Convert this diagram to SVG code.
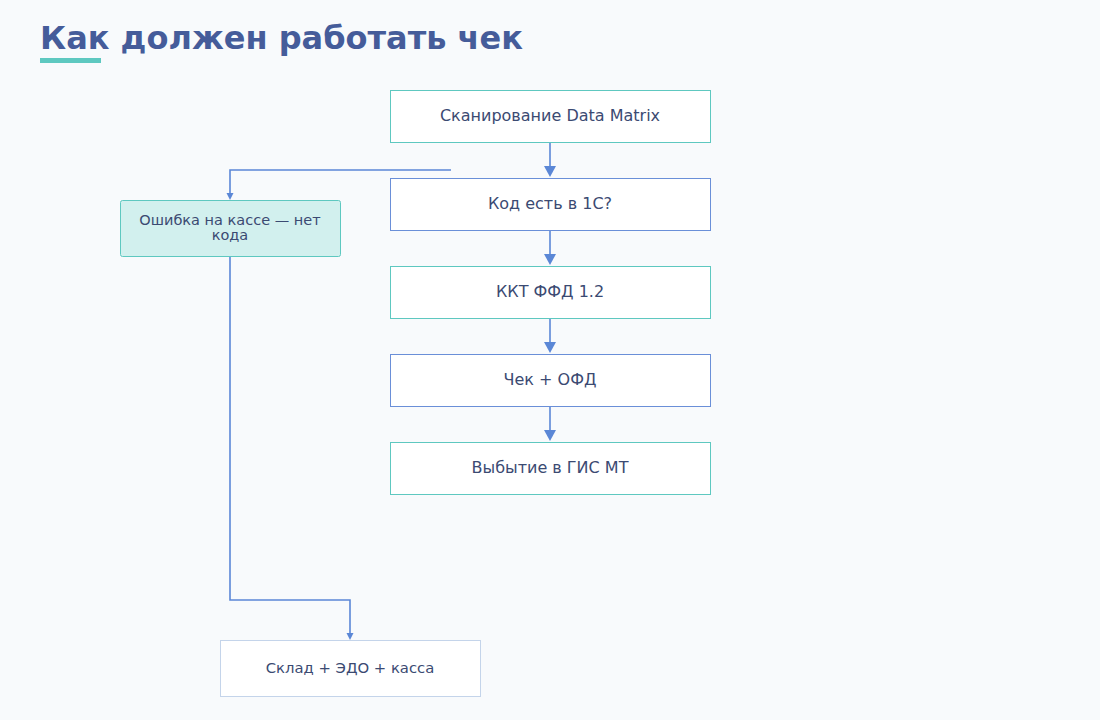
<svg xmlns="http://www.w3.org/2000/svg" width="1100" height="720" viewBox="0 0 1100 720">
<defs>
<style>
.t{font-family:"DejaVu Sans","Noto Sans",sans-serif;fill:#3b4a72;text-anchor:middle}
.n{fill:#ffffff;stroke-width:1}
.teal{stroke:#5ec8c0}
.blue{stroke:#6a8fd8}
.c{fill:none;stroke:#5b87d6;stroke-width:1.6}
.ah{fill:#5b87d6}
</style>
</defs>
<rect width="1100" height="720" fill="#f8fafc"/>
<text x="40" y="49" font-family="DejaVu Sans, sans-serif" font-weight="bold" font-size="32" fill="#455c9a">Как должен работать чек</text>
<rect x="40" y="58" width="61" height="5" fill="#5ec8c0"/>
<g id="connectors">
<path class="c" d="M550,143 V166"/>
<path class="ah" d="M544,166 L556,166 L550,177 Z"/>
<path class="c" d="M550,231 V254"/>
<path class="ah" d="M544,254 L556,254 L550,265 Z"/>
<path class="c" d="M550,319 V342"/>
<path class="ah" d="M544,342 L556,342 L550,353 Z"/>
<path class="c" d="M550,407 V430"/>
<path class="ah" d="M544,430 L556,430 L550,441 Z"/>
<path class="c" d="M451,170 H230 V193"/>
<path class="ah" d="M226.5,193 L233.5,193 L230,200 Z"/>
<path class="c" d="M230,256 V600 H350 V633"/>
<path class="ah" d="M346.5,633 L353.5,633 L350,640 Z"/>
</g>
<g id="scan"><rect class="n teal" x="390.5" y="90.5" width="320" height="52"/><text class="t" x="550" y="121" font-size="16">Сканирование Data Matrix</text></g>
<g id="code"><rect class="n blue" x="390.5" y="178.5" width="320" height="52"/><text class="t" x="550" y="209" font-size="16">Код есть в 1С?</text></g>
<g id="kkt"><rect class="n teal" x="390.5" y="266.5" width="320" height="52"/><text class="t" x="550" y="297" font-size="16">ККТ ФФД 1.2</text></g>
<g id="check"><rect class="n blue" x="390.5" y="354.5" width="320" height="52"/><text class="t" x="550" y="385" font-size="16">Чек + ОФД</text></g>
<g id="gis"><rect class="n teal" x="390.5" y="442.5" width="320" height="52"/><text class="t" x="550" y="473" font-size="16">Выбытие в ГИС МТ</text></g>
<g id="error"><rect x="120.5" y="200.5" width="220" height="56" rx="2" fill="#d2f0ee" stroke="#5ec8c0"/><text class="t" x="230" y="224.5" font-size="14.5">Ошибка на кассе — нет</text><text class="t" x="230" y="239.5" font-size="14.5">кода</text></g>
<g id="stock"><rect x="220.5" y="640.5" width="260" height="56" fill="#ffffff" stroke="#c4d4ea"/><text class="t" x="350" y="673" font-size="14.8">Склад + ЭДО + касса</text></g>
</svg>
